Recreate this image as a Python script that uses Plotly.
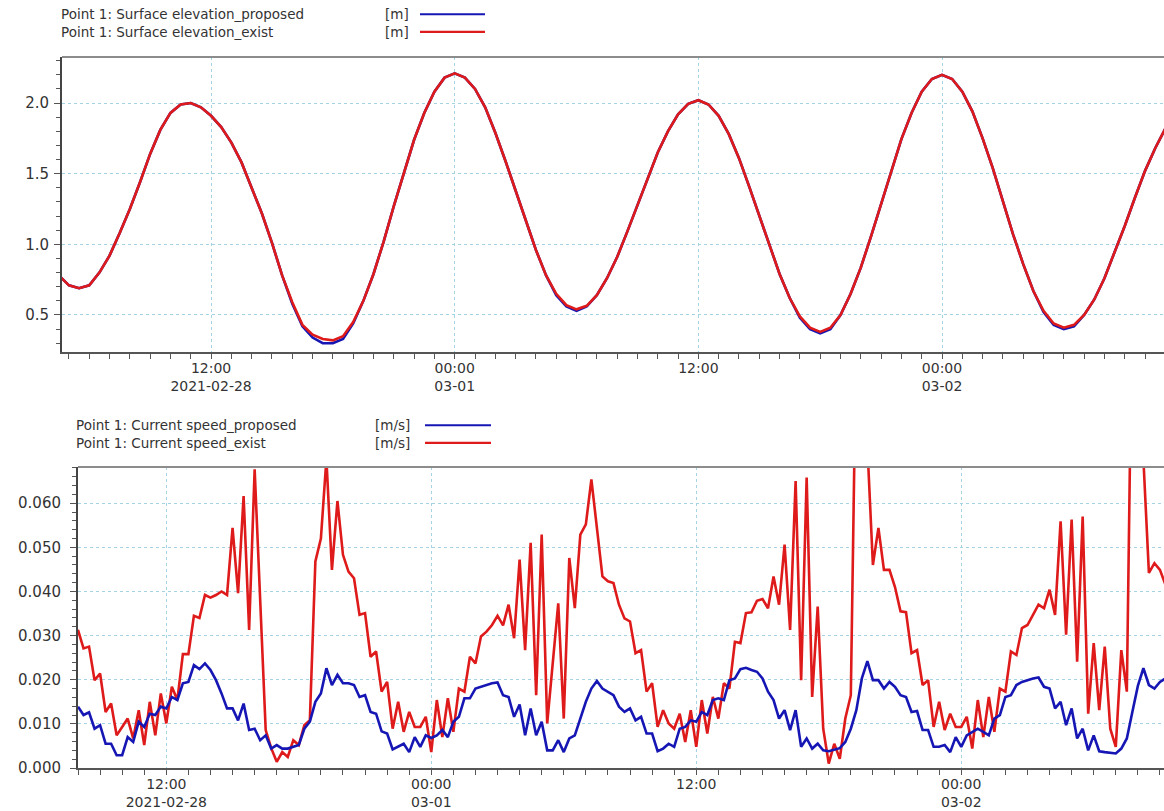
import pandas as pd
import plotly.graph_objects as go

# ---------------- data ----------------
# Surface elevation, half-hourly from 2021-02-28 04:30
elev_start = "2021-02-28 04:30"
elev_exist = [
    0.78, 0.71, 0.69, 0.71, 0.80, 0.92, 1.08, 1.25, 1.44, 1.64,
    1.81, 1.93, 1.99, 2.00, 1.97, 1.91, 1.83, 1.72, 1.58, 1.40,
    1.22, 1.01, 0.78, 0.59, 0.43, 0.36, 0.33, 0.32, 0.35, 0.45,
    0.60, 0.79, 1.02, 1.27, 1.51, 1.74, 1.93, 2.08, 2.18, 2.21,
    2.18, 2.10, 1.97, 1.79, 1.59, 1.38, 1.16, 0.96, 0.78, 0.65,
    0.57, 0.54, 0.565, 0.64, 0.76, 0.91, 1.09, 1.28, 1.47, 1.65,
    1.80, 1.92, 1.995, 2.02, 1.99, 1.91, 1.78, 1.61, 1.41, 1.20,
    0.99, 0.79, 0.62, 0.49, 0.41, 0.38, 0.41, 0.50, 0.65, 0.835,
    1.055, 1.29, 1.525, 1.745, 1.93, 2.08, 2.17, 2.20, 2.17, 2.08,
    1.94, 1.75, 1.54, 1.305, 1.07, 0.86, 0.67, 0.53, 0.44, 0.41,
    0.43, 0.50, 0.61, 0.76, 0.94, 1.13, 1.33, 1.52, 1.68, 1.82,
]
elev_proposed = [
    0.78, 0.71, 0.69, 0.71, 0.80, 0.92, 1.08, 1.25, 1.44, 1.64,
    1.81, 1.93, 1.99, 2.00, 1.97, 1.91, 1.83, 1.72, 1.58, 1.40,
    1.22, 1.01, 0.78, 0.58, 0.42, 0.34, 0.30, 0.30, 0.33, 0.44,
    0.60, 0.79, 1.02, 1.27, 1.51, 1.74, 1.93, 2.08, 2.18, 2.21,
    2.18, 2.10, 1.97, 1.79, 1.59, 1.38, 1.16, 0.96, 0.78, 0.64,
    0.56, 0.53, 0.56, 0.64, 0.76, 0.91, 1.09, 1.28, 1.47, 1.65,
    1.80, 1.92, 1.995, 2.02, 1.99, 1.91, 1.78, 1.61, 1.41, 1.20,
    0.99, 0.79, 0.62, 0.48, 0.40, 0.37, 0.40, 0.50, 0.65, 0.835,
    1.055, 1.29, 1.525, 1.745, 1.93, 2.08, 2.17, 2.20, 2.17, 2.08,
    1.94, 1.75, 1.54, 1.305, 1.07, 0.86, 0.67, 0.52, 0.43, 0.40,
    0.42, 0.50, 0.61, 0.76, 0.94, 1.13, 1.33, 1.52, 1.68, 1.82,
]

# Current speed, 15-minute values from 2021-02-28 08:00
speed_start = "2021-02-28 08:00"
speed_exist = [
    0.0313, 0.0271, 0.0275, 0.0199, 0.0214, 0.0127, 0.0146, 0.0074, 0.0093, 0.0112,
    0.0067, 0.0131, 0.0052, 0.0150, 0.0074, 0.0169, 0.0101, 0.0184, 0.0154, 0.0258,
    0.0258, 0.0345, 0.0340, 0.0392, 0.0386, 0.0392, 0.0400, 0.0392, 0.0544, 0.0396,
    0.0616, 0.0313, 0.0677, 0.0380, 0.0086, 0.0045, 0.0014, 0.0036, 0.0025, 0.0063,
    0.0052, 0.0097, 0.0108, 0.0468, 0.0520, 0.0700, 0.0449, 0.0605, 0.0483, 0.0445,
    0.0430, 0.0347, 0.0351, 0.0252, 0.0264, 0.0173, 0.0195, 0.0089, 0.0150, 0.0082,
    0.0127, 0.0093, 0.0093, 0.0116, 0.0036, 0.0154, 0.0070, 0.0158, 0.0082, 0.0180,
    0.0173, 0.0252, 0.0237, 0.0298, 0.0309, 0.0324, 0.0345, 0.0323, 0.0370, 0.0294,
    0.0472, 0.0267, 0.0510, 0.0165, 0.0529, 0.0101, 0.0241, 0.0373, 0.0112, 0.0476,
    0.0362, 0.0529, 0.0552, 0.0654, 0.0544, 0.0434, 0.0423, 0.0419, 0.0370, 0.0339,
    0.0332, 0.0260, 0.0267, 0.0173, 0.0192, 0.0093, 0.0131, 0.0101, 0.0089, 0.0123,
    0.0059, 0.0131, 0.0048, 0.0154, 0.0078, 0.0161, 0.0112, 0.0192, 0.0180, 0.0286,
    0.0283, 0.0351, 0.0353, 0.0379, 0.0383, 0.0362, 0.0434, 0.0370, 0.0506, 0.0313,
    0.0650, 0.0199, 0.0658, 0.0161, 0.0366, 0.0089, 0.0010, 0.0055, 0.0021, 0.0112,
    0.0165, 0.1000, 0.1000, 0.0720, 0.0460, 0.0544, 0.0449, 0.0449, 0.0410, 0.0355,
    0.0353, 0.0260, 0.0267, 0.0188, 0.0199, 0.0093, 0.0150, 0.0086, 0.0123, 0.0093,
    0.0093, 0.0116, 0.0044, 0.0154, 0.0070, 0.0161, 0.0082, 0.0180, 0.0173, 0.0264,
    0.0256, 0.0317, 0.0324, 0.0347, 0.0370, 0.0362, 0.0404, 0.0347, 0.0559, 0.0302,
    0.0563, 0.0241, 0.0570, 0.0123, 0.0283, 0.0131, 0.0275, 0.0089, 0.0048, 0.0267,
    0.0173, 0.1100, 0.1100, 0.0700, 0.0442, 0.0464, 0.0449, 0.0415,
]
speed_proposed = [
    0.0139, 0.0120, 0.0126, 0.0089, 0.0097, 0.0055, 0.0055, 0.0029, 0.0029, 0.0070,
    0.0059, 0.0105, 0.0093, 0.0123, 0.0120, 0.0139, 0.0135, 0.0161, 0.0154, 0.0192,
    0.0195, 0.0233, 0.0224, 0.0237, 0.0222, 0.0199, 0.0169, 0.0135, 0.0135, 0.0108,
    0.0146, 0.0086, 0.0089, 0.0063, 0.0074, 0.0044, 0.0052, 0.0044, 0.0044, 0.0048,
    0.0052, 0.0089, 0.0105, 0.0150, 0.0169, 0.0226, 0.0188, 0.0211, 0.0192, 0.0192,
    0.0188, 0.0161, 0.0165, 0.0127, 0.0123, 0.0083, 0.0078, 0.0042, 0.0048, 0.0055,
    0.0036, 0.0070, 0.0048, 0.0074, 0.0068, 0.0074, 0.0086, 0.0070, 0.0105, 0.0116,
    0.0158, 0.0158, 0.0180, 0.0184, 0.0188, 0.0192, 0.0194, 0.0165, 0.0161, 0.0116,
    0.0144, 0.0074, 0.0135, 0.0074, 0.0105, 0.0040, 0.0040, 0.0063, 0.0036, 0.0067,
    0.0074, 0.0112, 0.0150, 0.0180, 0.0197, 0.0180, 0.0173, 0.0165, 0.0139, 0.0127,
    0.0135, 0.0108, 0.0116, 0.0078, 0.0078, 0.0038, 0.0044, 0.0055, 0.0048, 0.0089,
    0.0093, 0.0108, 0.0105, 0.0127, 0.0120, 0.0154, 0.0158, 0.0154, 0.0199, 0.0203,
    0.0224, 0.0227, 0.0222, 0.0218, 0.0203, 0.0173, 0.0154, 0.0112, 0.0131, 0.0086,
    0.0131, 0.0048, 0.0067, 0.0044, 0.0055, 0.0040, 0.0038, 0.0042, 0.0045, 0.0059,
    0.0089, 0.0131, 0.0203, 0.0242, 0.0199, 0.0199, 0.0180, 0.0195, 0.0184, 0.0165,
    0.0161, 0.0127, 0.0129, 0.0086, 0.0086, 0.0048, 0.0048, 0.0052, 0.0036, 0.0070,
    0.0048, 0.0074, 0.0082, 0.0089, 0.0082, 0.0074, 0.0112, 0.0120, 0.0161, 0.0165,
    0.0188, 0.0195, 0.0199, 0.0203, 0.0205, 0.0184, 0.0180, 0.0135, 0.0150, 0.0097,
    0.0135, 0.0067, 0.0089, 0.0040, 0.0074, 0.0038, 0.0036, 0.0035, 0.0033, 0.0044,
    0.0067, 0.0127, 0.0186, 0.0226, 0.0188, 0.0180, 0.0195, 0.0203,
]

# axis ticks
time_tickvals = ["2021-02-28 12:00", "2021-03-01 00:00", "2021-03-01 12:00", "2021-03-02 00:00"]
time_ticktext = ["12:00<br>2021-02-28", "00:00<br>03-01", "12:00", "00:00<br>03-02"]
elev_tickvals = [0.5, 1.0, 1.5, 2.0]
elev_ticktext = ["0.5", "1.0", "1.5", "2.0"]
speed_tickvals = [0.0, 0.01, 0.02, 0.03, 0.04, 0.05, 0.06]
speed_ticktext = ["0.000", "0.010", "0.020", "0.030", "0.040", "0.050", "0.060"]

legend_elev_names = ["Point 1: Surface elevation_proposed", "Point 1: Surface elevation_exist"]
legend_elev_units = ["[m]", "[m]"]
legend_speed_names = ["Point 1: Current speed_proposed", "Point 1: Current speed_exist"]
legend_speed_units = ["[m/s]", "[m/s]"]

# ---------------- styling ----------------
W, H = 1164, 811
BLUE = "#1616b4"
RED = "#de1a1a"
GRID = "#a6d3e3"
FONT = "DejaVu Sans, Verdana, sans-serif"
TXT = "#333333"


def px(x):
    return x / W


def py(y):
    return 1 - y / H


elev_t = pd.date_range(elev_start, periods=len(elev_exist), freq="30min")
speed_t = pd.date_range(speed_start, periods=len(speed_exist), freq="15min")

fig = go.Figure()
fig.add_trace(go.Scatter(x=elev_t, y=elev_proposed, mode="lines",
                         line=dict(color=BLUE, width=2.6), xaxis="x", yaxis="y"))
fig.add_trace(go.Scatter(x=elev_t, y=elev_exist, mode="lines",
                         line=dict(color=RED, width=2.6), xaxis="x", yaxis="y"))
fig.add_trace(go.Scatter(x=speed_t, y=speed_exist, mode="lines",
                         line=dict(color=RED, width=2.6), xaxis="x2", yaxis="y2"))
fig.add_trace(go.Scatter(x=speed_t, y=speed_proposed, mode="lines",
                         line=dict(color=BLUE, width=2.6), xaxis="x2", yaxis="y2"))

x_tick_font = dict(family=FONT, size=14, color=TXT)
y_tick_font = dict(family=FONT, size=15, color=TXT)


def time_axis(domain, rng, anchor):
    return dict(
        domain=domain, range=rng, anchor=anchor, type="date",
        tickmode="array", tickvals=time_tickvals, ticktext=time_ticktext,
        tickfont=x_tick_font, ticks="outside", ticklen=5, tickwidth=1.2, tickcolor="#555",
        ticklabelstandoff=-3,
        showline=True, linecolor="#555", linewidth=2,
        showgrid=True, gridcolor=GRID, griddash="dot", gridwidth=1,
        minor=dict(dtick=3600000, tick0="2021-02-28 00:00", ticks="outside",
                   ticklen=5, tickwidth=1, tickcolor="#555", showgrid=False),
        zeroline=False, fixedrange=True, automargin=False,
    )


def value_axis(domain, rng, anchor, vals, text, minor_dtick, standoff):
    return dict(
        domain=domain, range=rng, anchor=anchor,
        tickmode="array", tickvals=vals, ticktext=text,
        tickfont=y_tick_font, ticks="outside", ticklen=6, tickwidth=1.2, tickcolor="#555",
        ticklabelstandoff=standoff,
        showline=True, linecolor="#444", linewidth=2,
        showgrid=True, gridcolor=GRID, griddash="dot", gridwidth=1,
        minor=dict(dtick=minor_dtick, ticks="outside", ticklen=4, tickwidth=1,
                   tickcolor="#555", showgrid=False),
        zeroline=False, fixedrange=True, automargin=False,
    )


fig.update_layout(
    width=W, height=H,
    margin=dict(l=0, r=0, t=0, b=0),
    paper_bgcolor="white", plot_bgcolor="white",
    showlegend=False,
    xaxis=time_axis([px(62), 1], ["2021-02-28 04:39:30", "2021-03-02 10:56"], "y"),
    yaxis=value_axis([py(352), py(57)], [0.238, 2.326], "x",
                     elev_tickvals, elev_ticktext, 0.1, 2),
    xaxis2=time_axis([px(78), 1], ["2021-02-28 08:00", "2021-03-02 09:11"], "y2"),
    yaxis2=value_axis([py(768), py(467)], [0.0, 0.0682], "x2",
                      speed_tickvals, speed_ticktext, 0.002, 6),
)

# top frame edges
for yref in ("y domain", "y2 domain"):
    xref = "x domain" if yref == "y domain" else "x2 domain"
    fig.add_shape(type="line", xref=xref, yref=yref, x0=0, x1=1, y0=1, y1=1,
                  line=dict(color="#8c8c8c", width=2))

# legend blocks: two-line name column, two-line unit column, line samples
LEG_SIZE = 13.5
legend_font = dict(family=FONT, size=LEG_SIZE, color=TXT)
LINE_GAP = 1.3 * LEG_SIZE


def legend_block(names, units, x_text, x_unit_end, x_line0, x_line1, y_mid, colors):
    fig.add_annotation(x=px(x_text), y=py(y_mid), xref="paper", yref="paper",
                       text="<br>".join(names), showarrow=False, align="left",
                       xanchor="left", yanchor="middle", font=legend_font, borderpad=0)
    fig.add_annotation(x=px(x_unit_end), y=py(y_mid), xref="paper", yref="paper",
                       text="<br>".join(units), showarrow=False, align="right",
                       xanchor="right", yanchor="middle", font=legend_font, borderpad=0)
    for i, c in enumerate(colors):
        yl = y_mid + (i - 0.5) * LINE_GAP
        fig.add_shape(type="line", xref="paper", yref="paper",
                      x0=px(x_line0), x1=px(x_line1), y0=py(yl), y1=py(yl),
                      line=dict(color=c, width=2.2))


legend_block(legend_elev_names, legend_elev_units, 60, 410, 420, 485, 23, [BLUE, RED])
legend_block(legend_speed_names, legend_speed_units, 75, 411, 425, 491, 434, [BLUE, RED])

fig.write_html("out.html")
